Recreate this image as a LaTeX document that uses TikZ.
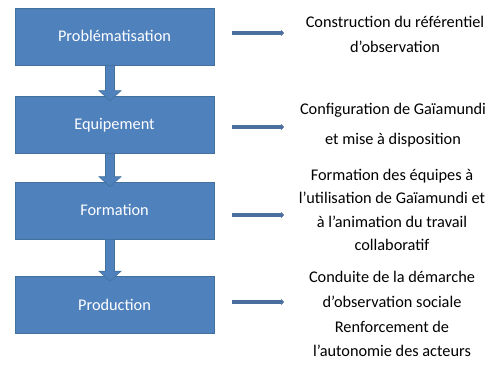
\documentclass[tikz,border=0pt]{standalone}
\usepackage{fontspec}
\setmainfont{Carlito}
\usetikzlibrary{calc,arrows.meta}
\definecolor{boxblue}{HTML}{4F81BD}
\definecolor{bord}{HTML}{41719C}
\definecolor{linecol}{HTML}{4A6F9F}
\tikzset{
  stepbox/.style={draw=bord, line width=0.6pt, fill=boxblue, minimum width=199pt, minimum height=57pt,
    text=white, font=\fontsize{16.3}{18}\selectfont, text height=10pt, text depth=0pt, inner sep=0pt},
  desc/.style={anchor=base, font=\fontsize{16.3}{18}\selectfont, text=black, inner sep=0pt},
  blockarrow/.style={draw=bord, fill=boxblue, line width=0.6pt, line join=miter, to path={
    ($(\tikztostart)+(-4.5,0)$) -- ($(\tikztotarget)+(-4.5,-10)$) -- ($(\tikztotarget)+(-11,-10)$)
    -- (\tikztotarget) -- ($(\tikztotarget)+(11,-10)$) -- ($(\tikztotarget)+(4.5,-10)$)
    -- ($(\tikztostart)+(4.5,0)$) -- cycle}},
  sidearrow/.style={draw=linecol, line width=3.4pt, -{Triangle[width=6pt,length=3pt]}}
}
\begin{document}
\begin{tikzpicture}[x=1pt,y=-1pt]
\useasboundingbox (0,0) rectangle (497,366);
% boxes
\node[stepbox] (b1) at (114.5,36.5) {Problématisation};
\node[stepbox] (b2) at (114.5,124.5) {Equipement};
\node[stepbox] (b3) at (114.5,210.5) {Formation};
\node[stepbox] (b4) at (114.5,305) {Production};
% block arrows
\coordinate (s1) at ($(b1.south)+(-4.5,0)$);
\coordinate (e1) at ($(b2.north)+(-4.5,5)$);
\coordinate (s2) at ($(b2.south)+(-4.5,0)$);
\coordinate (e2) at ($(b3.north)+(-4.5,5)$);
\coordinate (s3) at ($(b3.south)+(-4.5,0)$);
\coordinate (e3) at ($(b4.north)+(-4.5,5)$);
\draw[blockarrow] (s1) to (e1);
\draw[blockarrow] (s2) to (e2);
\draw[blockarrow] (s3) to (e3);
% side arrows
\coordinate (r1s) at (232,33);  \coordinate (r1e) at (284,33);
\coordinate (r2s) at (232,127); \coordinate (r2e) at (284,127);
\coordinate (r3s) at (232,215); \coordinate (r3e) at (284,215);
\coordinate (r4s) at (232,302); \coordinate (r4e) at (284,302);
\draw[sidearrow] (r1s) -- (r1e);
\draw[sidearrow] (r2s) -- (r2e);
\draw[sidearrow] (r3s) -- (r3e);
\draw[sidearrow] (r4s) -- (r4e);
% descriptions
\node[desc] (t1a) at (395,28) {Construction du référentiel};
\node[desc] (t1b) at (395,53) {d’observation};
\node[desc] (t2a) at (393,115) {Configuration de Gaïamundi};
\node[desc] (t2b) at (393,145) {et mise à disposition};
\node[desc] (t3a) at (392,180) {Formation des équipes à};
\node[desc] (t3b) at (392,203) {l’utilisation de Gaïamundi et};
\node[desc] (t3c) at (392,227) {à l’animation du travail};
\node[desc] (t3d) at (392,250) {collaboratif};
\node[desc] (t4a) at (392,282) {Conduite de la démarche};
\node[desc] (t4b) at (392,307) {d’observation sociale};
\node[desc] (t4c) at (392,332) {Renforcement de};
\node[desc] (t4d) at (392,356) {l’autonomie des acteurs};
\end{tikzpicture}
\end{document}
